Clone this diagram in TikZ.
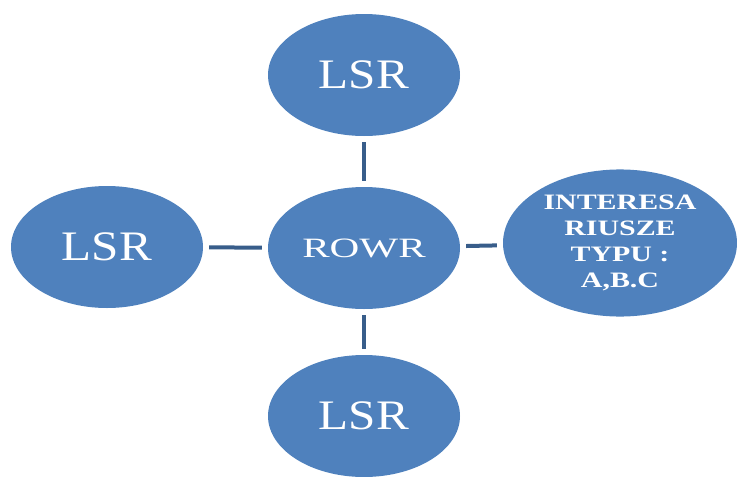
\documentclass[tikz,border=0pt]{standalone}
\usepackage{fontspec}
\setmainfont{Liberation Serif}
\usetikzlibrary{shapes.geometric}
\definecolor{nodeblue}{HTML}{4F81BD}
\definecolor{linkblue}{HTML}{385D8A}

\begin{document}
\begin{tikzpicture}[
    x=1pt,
    y=-1pt,
    bubble/.style={
      ellipse,
      fill=nodeblue,
      text=white,
      inner sep=0pt,
      align=center,
      minimum width=192pt,
      minimum height=122pt
    },
    bigtext/.style={font=\fontsize{42}{44}\selectfont},
    link/.style={draw=linkblue, line width=4pt, shorten <=6pt, shorten >=6pt}
]
\useasboundingbox (0,0) rectangle (737,477);

% 1) Centre bubble
\node[bubble, font=\fontsize{28}{30}\selectfont] (rowr) at (364,248) {\scalebox{1.47}[1]{ROWR}};

% 2) Outer bubbles
\node[bubble, bigtext] (lsrTop) at (364,75) {\scalebox{1.17}[1]{LSR}};
\node[bubble, bigtext] (lsrLeft) at (107,247) {\scalebox{1.17}[1]{LSR}};
\node[bubble, bigtext] (lsrBottom) at (364,416) {\scalebox{1.17}[1]{LSR}};
\node[bubble, minimum width=234pt, minimum height=130pt,
      font=\fontsize{22}{26}\selectfont\bfseries] (interesa) at (620,243)
  {\scalebox{1.36}[1]{\begin{tabular}{@{}c@{}}INTERESA\\RIUSZE\\TYPU :\\A,B.C\end{tabular}}};

% LINKS
\draw[link] (lsrTop) -- (rowr);
\draw[link] (lsrLeft) -- (rowr);
\draw[link] (rowr) -- (lsrBottom);
\draw[link] (rowr) -- (interesa);

\end{tikzpicture}
\end{document}
